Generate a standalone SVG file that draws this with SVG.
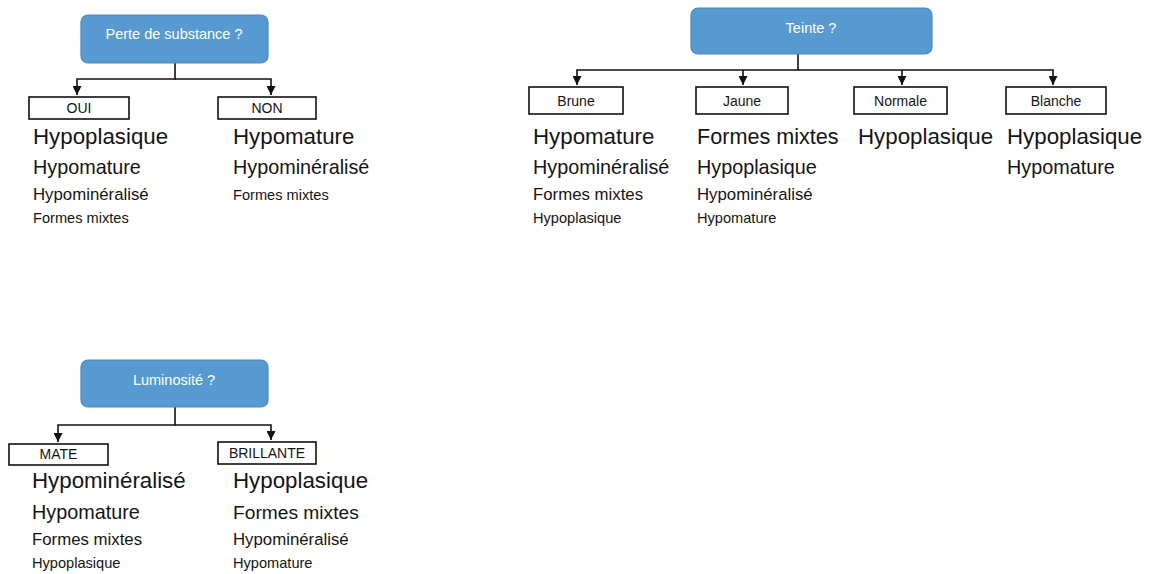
<svg xmlns="http://www.w3.org/2000/svg" width="1149" height="574" viewBox="0 0 1149 574">
<style>
  text { font-family: "Liberation Sans", Arial, sans-serif; fill: #141414; }
  .q rect { fill: #5799d1; stroke: #4a87bd; stroke-width: 1.2; }
  .q text { fill: #ffffff; font-size: 14.5px; text-anchor: middle; }
  .lab rect { fill: #ffffff; stroke: #111111; stroke-width: 1.6; }
  .lab text { font-size: 14px; text-anchor: middle; }
  .t1 { font-size: 22.3px; }
  .t2 { font-size: 19.8px; }
  .t3 { font-size: 16.8px; }
  .t4 { font-size: 14.6px; }
  .conn path { fill: none; stroke: #111111; stroke-width: 1.6; }
</style>
<defs>
  <marker id="arr" markerUnits="userSpaceOnUse" markerWidth="9" markerHeight="9" viewBox="0 0 10 10" refX="10" refY="5" orient="auto">
    <path d="M0,0 L10,5 L0,10 z" fill="#111111"/>
  </marker>
</defs>
<rect width="1149" height="574" fill="#ffffff"/>

<g id="connectors" class="conn">
  <path d="M175,63 V79 H77 V95" marker-end="url(#arr)"/>
  <path d="M175,79 H271 V95" marker-end="url(#arr)"/>
  <path d="M798,54 V70 H577 V85" marker-end="url(#arr)"/>
  <path d="M798,70 H1053 V85" marker-end="url(#arr)"/>
  <path d="M743,70 V85" marker-end="url(#arr)"/>
  <path d="M902,70 V85" marker-end="url(#arr)"/>
  <path d="M175,407 V425 H58 V442" marker-end="url(#arr)"/>
  <path d="M175,425 H271 V440" marker-end="url(#arr)"/>
</g>

<g id="q-perte" class="q">
  <rect x="81" y="15" width="187" height="48" rx="7"/>
  <text x="174" y="39">Perte de substance ?</text>
</g>
<g id="q-teinte" class="q">
  <rect x="691" y="8" width="241" height="46" rx="7"/>
  <text x="811" y="33">Teinte ?</text>
</g>
<g id="q-luminosite" class="q">
  <rect x="81" y="360" width="187" height="47" rx="7"/>
  <text x="174" y="385">Luminosité ?</text>
</g>

<g id="oui" class="lab">
  <rect x="29" y="97" width="100" height="22"/>
  <text x="79" y="113">OUI</text>
</g>
<g id="non" class="lab">
  <rect x="218" y="97" width="98" height="22"/>
  <text x="267" y="113">NON</text>
</g>
<g id="brune" class="lab">
  <rect x="529" y="87" width="94" height="27"/>
  <text x="576" y="106">Brune</text>
</g>
<g id="jaune" class="lab">
  <rect x="696" y="87" width="92" height="27"/>
  <text x="742" y="106">Jaune</text>
</g>
<g id="normale" class="lab">
  <rect x="854" y="87" width="93" height="27"/>
  <text x="900.5" y="106">Normale</text>
</g>
<g id="blanche" class="lab">
  <rect x="1006" y="87" width="100" height="27"/>
  <text x="1056" y="106">Blanche</text>
</g>
<g id="mate" class="lab">
  <rect x="9" y="444" width="99" height="21"/>
  <text x="58.5" y="459">MATE</text>
</g>
<g id="brillante" class="lab">
  <rect x="218" y="442" width="98" height="22"/>
  <text x="267" y="458">BRILLANTE</text>
</g>

<g id="list-oui">
  <text class="t1" x="33" y="144">Hypoplasique</text>
  <text class="t2" x="33" y="174">Hypomature</text>
  <text class="t3" x="33" y="200">Hypominéralisé</text>
  <text class="t4" x="33" y="223">Formes mixtes</text>
</g>
<g id="list-non">
  <text class="t1" x="233" y="144">Hypomature</text>
  <text class="t2" x="233" y="174">Hypominéralisé</text>
  <text class="t4" x="233" y="200">Formes mixtes</text>
</g>
<g id="list-brune">
  <text class="t1" x="533" y="144">Hypomature</text>
  <text class="t2" x="533" y="174">Hypominéralisé</text>
  <text class="t3" x="533" y="200">Formes mixtes</text>
  <text class="t4" x="533" y="223">Hypoplasique</text>
</g>
<g id="list-jaune">
  <text class="t1" x="697" y="144" style="font-size:21.6px">Formes mixtes</text>
  <text class="t2" x="697" y="174">Hypoplasique</text>
  <text class="t3" x="697" y="200">Hypominéralisé</text>
  <text class="t4" x="697" y="223">Hypomature</text>
</g>
<g id="list-normale">
  <text class="t1" x="858" y="144">Hypoplasique</text>
</g>
<g id="list-blanche">
  <text class="t1" x="1007" y="144">Hypoplasique</text>
  <text class="t2" x="1007" y="174">Hypomature</text>
</g>
<g id="list-mate">
  <text class="t1" x="32" y="488">Hypominéralisé</text>
  <text class="t2" x="32" y="519">Hypomature</text>
  <text class="t3" x="32" y="545">Formes mixtes</text>
  <text class="t4" x="32" y="568">Hypoplasique</text>
</g>
<g id="list-brillante">
  <text class="t1" x="233" y="488">Hypoplasique</text>
  <text class="t2" x="233" y="519" style="font-size:19.2px">Formes mixtes</text>
  <text class="t3" x="233" y="545">Hypominéralisé</text>
  <text class="t4" x="233" y="568">Hypomature</text>
</g>
</svg>
